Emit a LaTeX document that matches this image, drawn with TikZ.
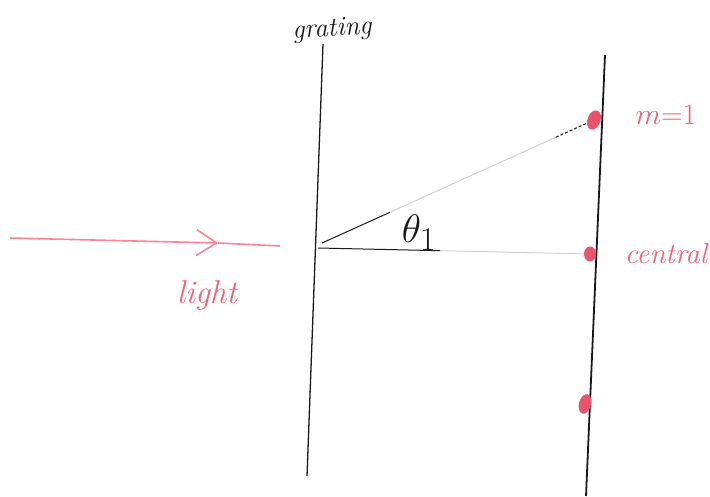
\documentclass[tikz,border=0pt]{standalone}
\usepackage{amsmath,amssymb}
\usepackage{xcolor}
\usetikzlibrary{positioning,arrows.meta,calc,shapes.geometric}
\definecolor{pinkdot}{RGB}{232,84,108}
\definecolor{pinkline}{RGB}{250,130,150}
\definecolor{pinktext}{RGB}{244,96,120}
\definecolor{inkblack}{RGB}{25,25,25}
\begin{document}
\begin{tikzpicture}[x=1pt,y=-1pt,
wall/.style={draw=inkblack,line width=1.3pt},
ray/.style={draw=inkblack,line width=1pt},
rayfade/.style={draw=black!18,line width=1pt},
lightray/.style={draw=pinkline,line width=1.6pt},
spot/.style={ellipse,fill=pinkdot,minimum width=13pt,minimum height=20pt,inner sep=0pt},
lbl/.style={text=pinktext,font=\itshape\fontsize{29}{29}\selectfont,inner sep=0pt}]
\useasboundingbox (0,0) rectangle (710,496);
% grating and screen
\coordinate (gtop) at (323,44);
\coordinate (gbot) at (307,476);
\coordinate (stop) at (605,55);
\coordinate (sbot) at (586,496);
\draw[wall] (gtop)--(gbot);
\draw[wall,line width=1.8pt] (stop)--(sbot);
% spots on the screen
\node[spot,rotate=-20] (m1) at (594,120) {};
\node[spot,minimum height=15pt,minimum width=12pt] (c0) at (590,254) {};
\node[spot,minimum height=20pt,minimum width=12pt,rotate=-15] (m2) at (585,404) {};
% rays from the grating
\coordinate (o1) at (322,243);
\coordinate (o2) at (318,248);
\coordinate (a1) at ($(o1)!.25!(m1)$);
\coordinate (a2) at ($(o1)!.86!(m1)$);
\coordinate (b1) at ($(o2)!.45!(c0)$);
\draw[ray] (o1)--(a1);
\draw[rayfade] (a1)--(a2);
\draw[ray,densely dashed] (a2)--(m1);
\draw[ray] (o2)--(b1);
\draw[rayfade] (b1)--(c0);
% incoming light
\coordinate (lstart) at (10,238);
\coordinate (ltip) at (218,243);
\coordinate (lend) at (280,246);
\draw[lightray,-{Straight Barb[length=20pt,width=26pt]}] (lstart)--(ltip);
\draw[lightray] (ltip)--(lend);
% labels
\node[lbl,text=inkblack,rotate=4,font=\itshape\fontsize{27}{27}\selectfont] (grating) at (332,30) {grating};
\node[lbl,scale=1.2,font=\fontsize{24.88}{30}\selectfont] (m1lbl) at (666,115) {$m{=}1$};
\node[lbl,font=\itshape\fontsize{29}{29}\selectfont] (c0lbl) at (666,254) {central};
\node[lbl,font=\itshape\fontsize{33}{33}\selectfont] (lightlbl) at (207,295) {light};
\node[inner sep=0pt,text=inkblack,scale=1.6,font=\fontsize{24.88}{30}\selectfont] (theta) at (419,233) {$\theta_1$};
\end{tikzpicture}
\end{document}
